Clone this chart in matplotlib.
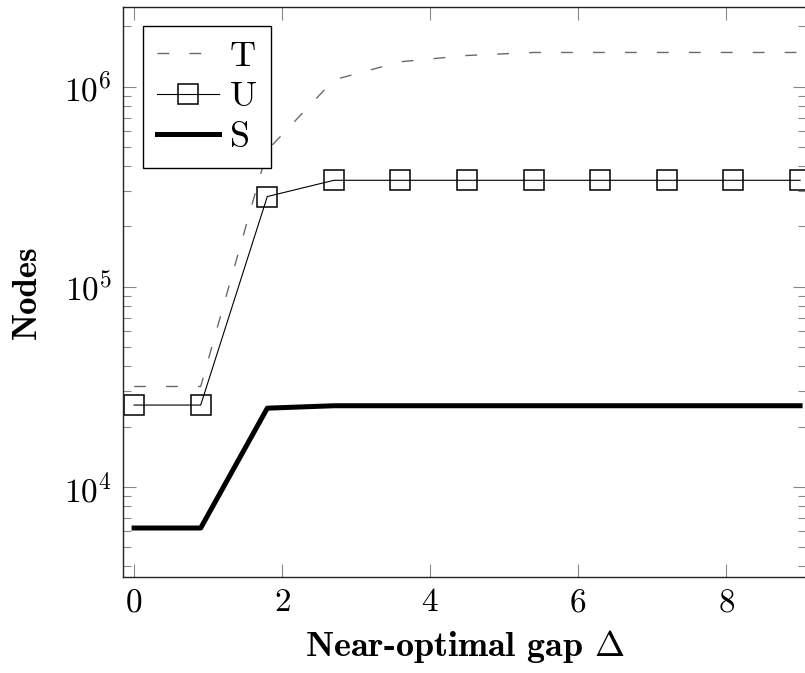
import numpy as np
import matplotlib
matplotlib.use("Agg")
import matplotlib.pyplot as plt

# データ
gap = [0, 0.9, 1.8, 2.7, 3.6, 4.5, 5.4, 6.3, 7.2, 8.1, 9.0]
nodes_T = [31700, 31700, 480000, 1080000, 1330000, 1430000, 1480000, 1480000, 1480000, 1480000, 1480000]
nodes_U = [25600, 25600, 282000, 340000, 340000, 340000, 340000, 340000, 340000, 340000, 340000]
nodes_S = [6220, 6220, 24700, 25400, 25400, 25400, 25400, 25400, 25400, 25400, 25400]

plt.rcParams['font.family'] = 'cmr10'
plt.rcParams['mathtext.fontset'] = 'cm'
plt.rcParams['axes.unicode_minus'] = False
plt.rcParams['axes.formatter.use_mathtext'] = True
plt.rcParams['lines.scale_dashes'] = False

fig = plt.figure(figsize=(8.05, 6.73), dpi=100)
ax = fig.add_axes([123/805, 1-577/673, (806-123)/805, (577-6.5)/673])

ax.plot(gap, nodes_T, color='#6a6a6a', lw=1.0, dashes=(8.5, 14.5), label='T')
ax.plot(gap, nodes_U, color='black', lw=0.8, marker='s', ms=15,
        mfc='none', mec='black', mew=1.1, label='U')
ax.plot(gap, nodes_S, color='black', lw=3.6, label='S')

ax.set_yscale('log')
ax.set_xlim(-0.15, 9.08)
ax.set_ylim(10**3.549, 10**6.40)
ax.set_xticks([0, 2, 4, 6, 8])

ax.tick_params(which='both', direction='in', top=True, right=True,
               color='#888888', width=0.8, labelsize=24, pad=8)
ax.tick_params(which='major', length=9.5)
ax.tick_params(which='minor', length=6)
for s in ax.spines.values():
    s.set_linewidth(1.0)
    s.set_color('#222222')

ax.set_xlabel(r'Near-optimal gap $\mathbf{\Delta}$', fontfamily='cmb10', fontsize=26, labelpad=8)
ax.set_ylabel('Nodes', fontfamily='cmb10', fontsize=25, labelpad=15)

leg = ax.legend(loc='upper left', fontsize=26, fancybox=False, framealpha=1,
                edgecolor='black', handlelength=1.7, handletextpad=0.3,
                borderpad=0.4, labelspacing=0.22, borderaxespad=0.55)
leg.get_frame().set_linewidth(1.0)

fig.savefig('out.png', dpi=100)
